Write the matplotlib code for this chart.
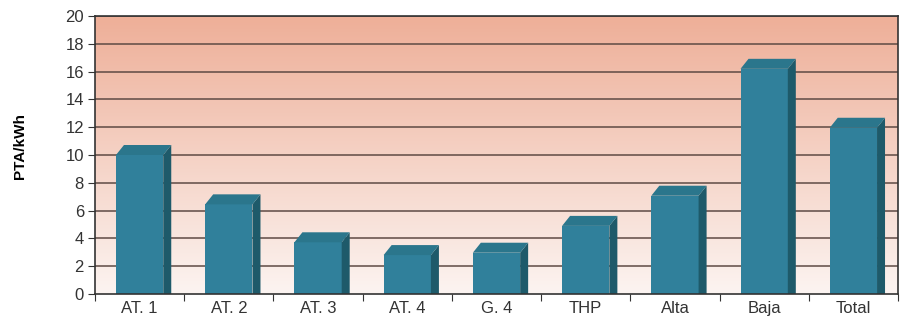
import numpy as np
import matplotlib.pyplot as plt
from matplotlib.patches import Polygon, Rectangle

cats = ["AT. 1", "AT. 2", "AT. 3", "AT. 4", "G. 4", "THP", "Alta", "Baja", "Total"]
vals = [10.0, 6.45, 3.72, 2.8, 2.97, 4.9, 7.07, 16.2, 11.96]

plt.rcParams['font.family'] = ['Liberation Sans Narrow', 'Liberation Sans', 'DejaVu Sans']

fig = plt.figure(figsize=(9.02, 3.17), dpi=100)
ax = fig.add_axes([95/902, 1-294/317, 803/902, 278/317])
ax.set_xlim(0, 9)
ax.set_ylim(0, 20)

# gradient background
grad = np.linspace(0, 1, 256).reshape(-1, 1)
top = np.array([0xEE, 0xAF, 0x98]) / 255
bot = np.array([0xFC, 0xF4, 0xF1]) / 255
img = bot + (top - bot) * grad[:, :, None] * np.ones((1, 1, 3))
ax.imshow(img, extent=[0, 9, 0, 20], origin='lower', aspect='auto', zorder=0)

for y in range(2, 21, 2):
    ax.axhline(y, color='#5e4a44', lw=1.1, zorder=1)

w = 0.53
dx = 8 / (803 / 9)
dy = 10 / (278 / 20)
front = '#30809b'
side = '#1e5a6a'
topc = '#2b768c'
for i, v in enumerate(vals):
    x0 = i + 0.5 - w / 2
    x1 = x0 + w
    ax.add_patch(Rectangle((x0, 0), w, v, color=front, lw=0, zorder=3))
    ax.add_patch(Polygon([(x1, 0), (x1 + dx, 0), (x1 + dx, v + dy), (x1, v)],
                         closed=True, color=side, lw=0, zorder=3))
    ax.add_patch(Polygon([(x0, v), (x0 + dx, v + dy), (x1 + dx, v + dy), (x1, v)],
                         closed=True, color=topc, lw=0, zorder=3))

ax.set_yticks(range(0, 21, 2))
ax.set_xticks(range(0, 10), minor=False)
ax.set_xticklabels([])
ax.set_xticks(np.arange(9) + 0.5, minor=True)
ax.set_xticklabels(cats, minor=True)
ax.tick_params(axis='x', which='minor', length=0, pad=5, labelsize=12, labelcolor='#333333')
ax.tick_params(axis='x', which='major', length=5, color='#333333')
ax.tick_params(axis='y', length=5, color='#333333', labelsize=12, pad=3, labelcolor='#333333')
for s in ax.spines.values():
    s.set_color('#333333')
    s.set_linewidth(1.2)
    s.set_zorder(5)

fig.text(20/902, 1-146/317, "PTA/kWh", rotation=90, ha='center', va='center',
         fontsize=11, fontweight='bold')

fig.savefig("out.png", dpi=100)
